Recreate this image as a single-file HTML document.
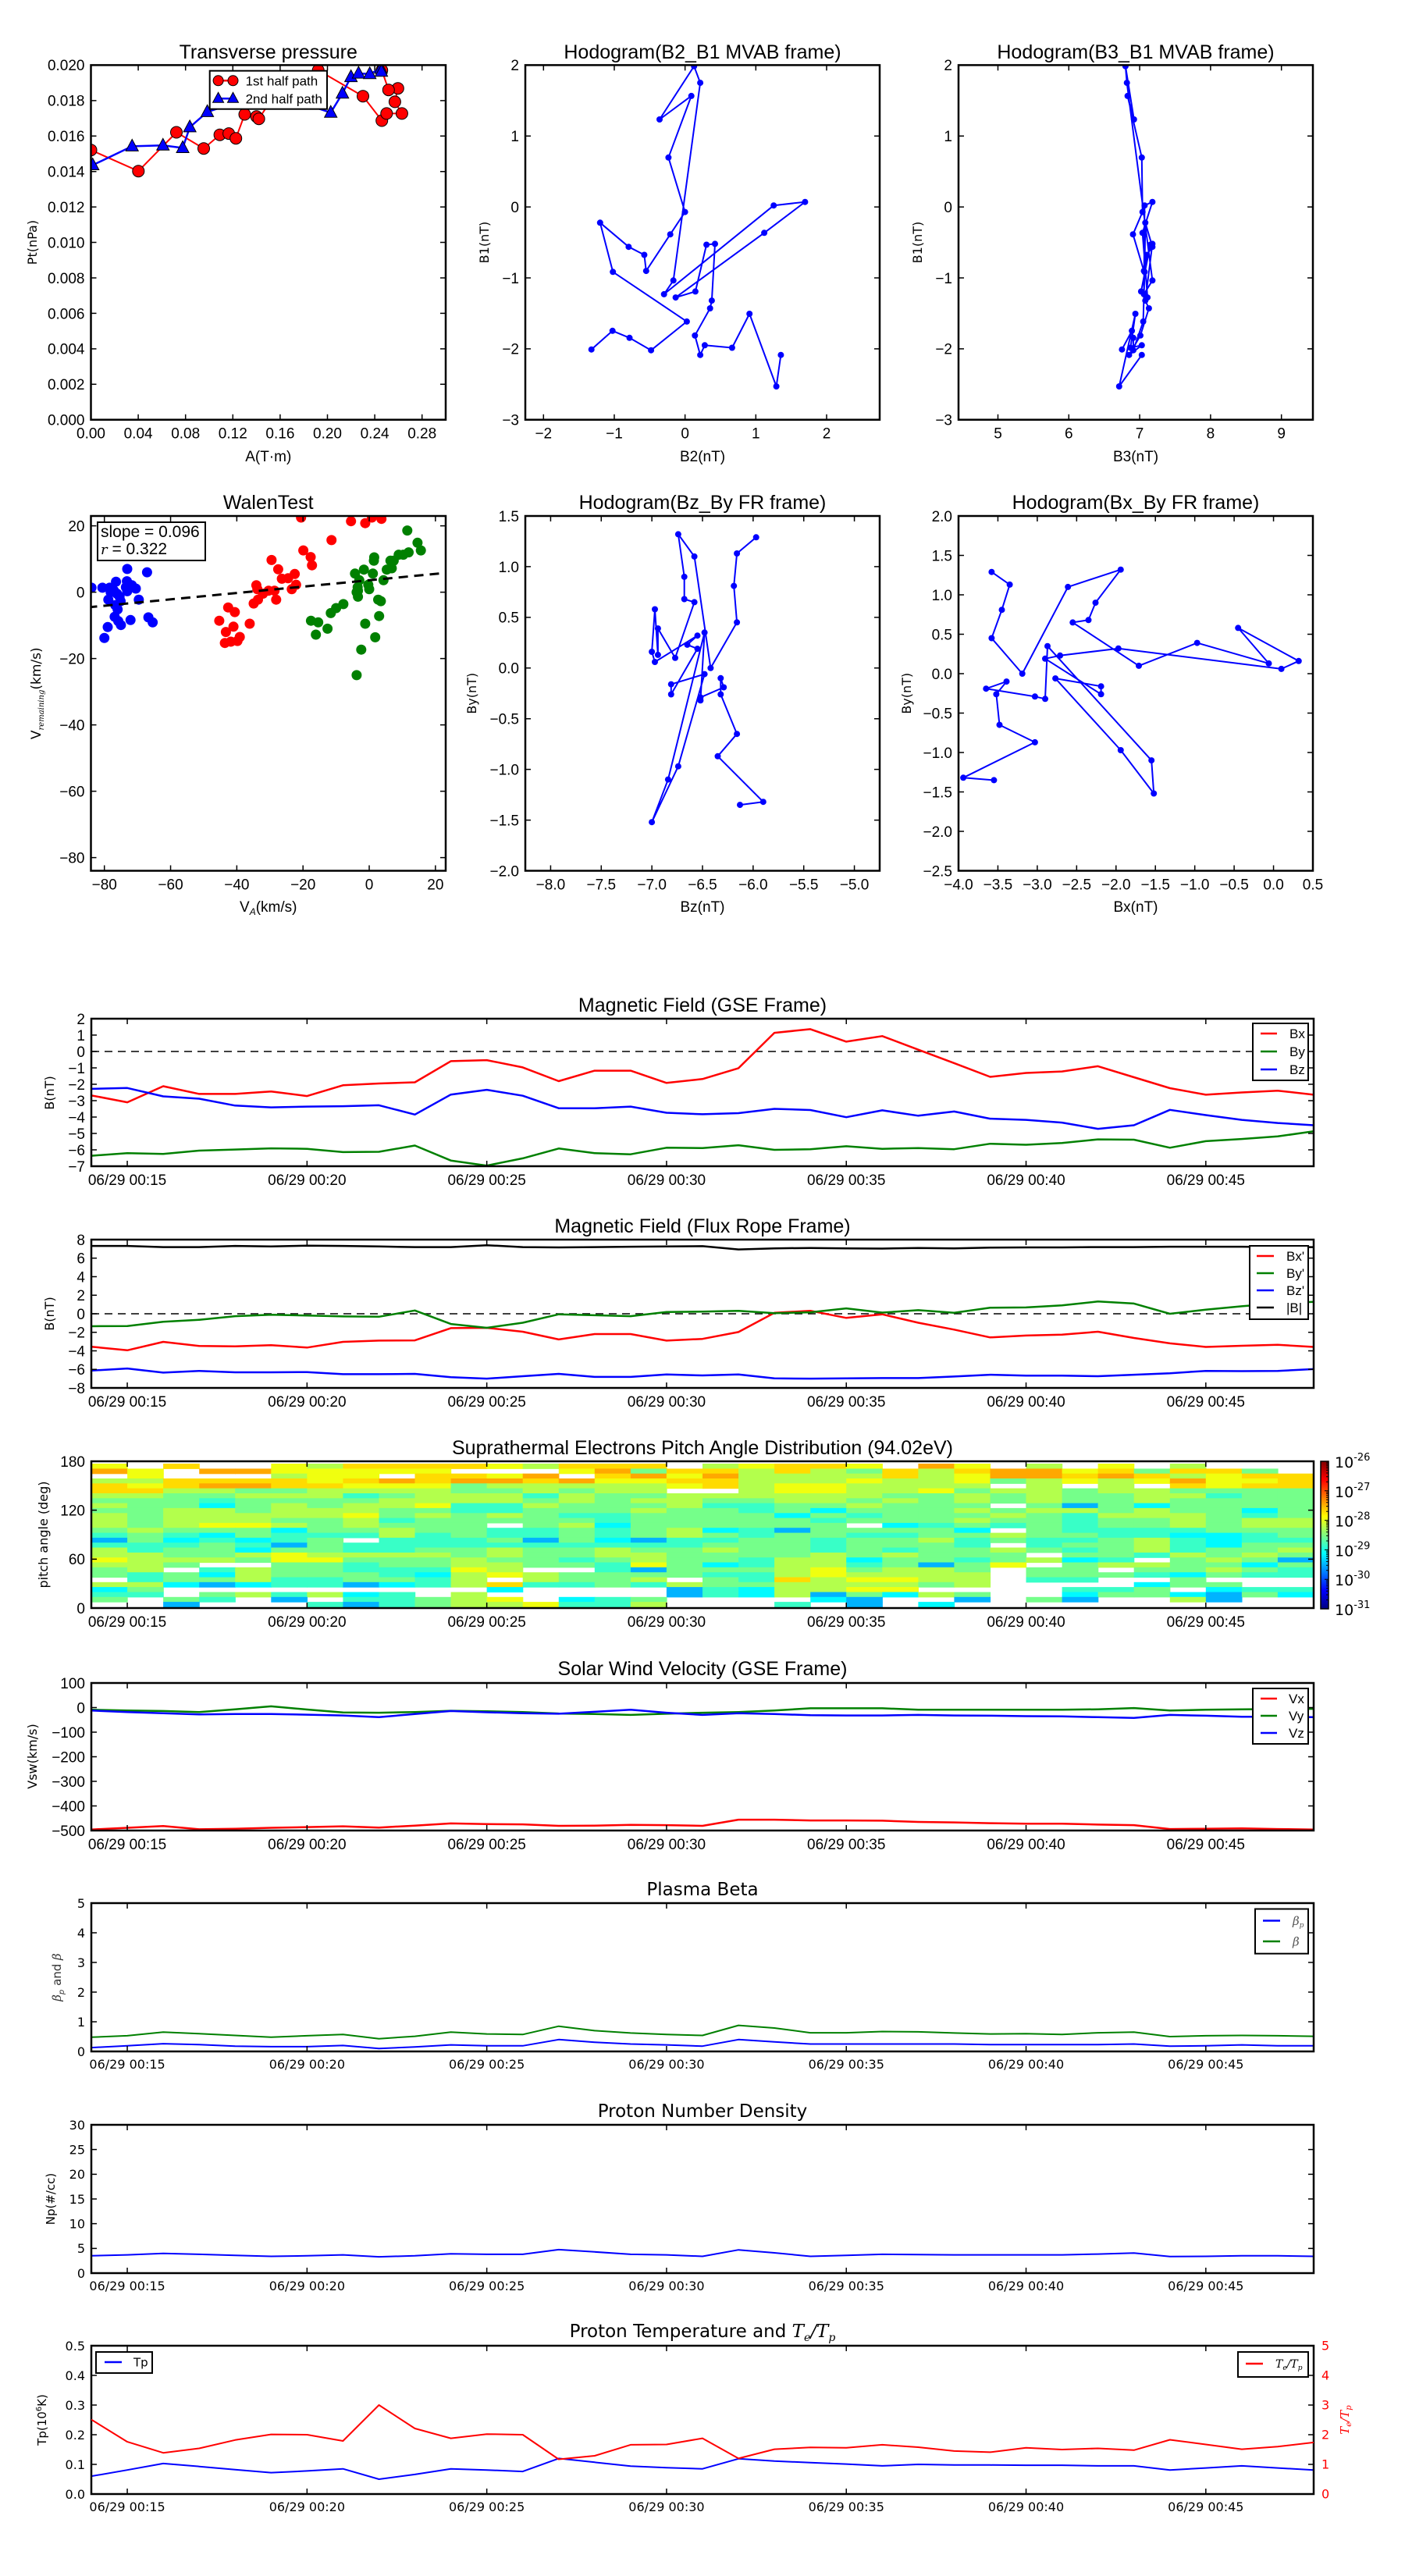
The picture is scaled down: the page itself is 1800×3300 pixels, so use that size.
<!DOCTYPE html>
<html><head><meta charset="utf-8"><title>Flux rope analysis</title>
<style>body{margin:0;background:#fff}svg{display:block}</style></head>
<body>
<svg id="fig" xmlns="http://www.w3.org/2000/svg" width="1800" height="3300" viewBox="0 0 1800 3300"><defs id="defs"></defs><rect x="0" y="0" width="1800" height="3300" fill="#fff"/></svg>
<script>
// ---------- DATA ----------
const minutes=[14,15,16,17,18,19,20,21,22,23,24,25,26,27,28,29,30,31,32,33,34,35,36,37,38,39,40,41,42,43,44,45,46,47,48];
const timeTicks=[15,20,25,30,35,40,45];
const timeTickLabels=['06/29 00:15','06/29 00:20','06/29 00:25','06/29 00:30','06/29 00:35','06/29 00:40','06/29 00:45'];

const gseBx=[-2.68,-3.10,-2.12,-2.59,-2.59,-2.44,-2.72,-2.06,-1.95,-1.88,-0.59,-0.53,-0.97,-1.81,-1.17,-1.17,-1.92,-1.68,-1.02,1.14,1.36,0.60,0.94,0.11,-0.71,-1.55,-1.31,-1.22,-0.90,-1.57,-2.24,-2.64,-2.50,-2.39,-2.64];
const gseBy=[-6.36,-6.20,-6.25,-6.05,-5.98,-5.91,-5.94,-6.14,-6.12,-5.74,-6.65,-6.96,-6.52,-5.92,-6.20,-6.27,-5.87,-5.89,-5.72,-6.00,-5.96,-5.78,-5.94,-5.89,-5.96,-5.63,-5.69,-5.58,-5.36,-5.38,-5.87,-5.47,-5.34,-5.18,-4.87];
const gseBz=[-2.28,-2.23,-2.74,-2.88,-3.30,-3.41,-3.36,-3.34,-3.28,-3.85,-2.63,-2.34,-2.70,-3.46,-3.46,-3.36,-3.74,-3.83,-3.76,-3.50,-3.57,-4.01,-3.59,-3.92,-3.66,-4.10,-4.17,-4.34,-4.72,-4.50,-3.56,-3.88,-4.17,-4.36,-4.50];

const frBx=[-3.55,-3.94,-3.03,-3.48,-3.52,-3.39,-3.65,-3.03,-2.90,-2.87,-1.55,-1.52,-1.94,-2.77,-2.19,-2.19,-2.90,-2.71,-1.97,0.10,0.32,-0.45,-0.06,-0.97,-1.71,-2.55,-2.35,-2.26,-1.94,-2.61,-3.19,-3.58,-3.45,-3.35,-3.58];
const frBy=[-1.35,-1.32,-0.87,-0.65,-0.26,-0.10,-0.19,-0.29,-0.32,0.35,-1.10,-1.52,-0.97,-0.06,-0.16,-0.26,0.19,0.23,0.32,0.06,0.16,0.58,0.13,0.39,0.10,0.65,0.68,0.90,1.32,1.10,0.00,0.45,0.81,1.13,1.29];
const frBz=[-6.13,-5.90,-6.35,-6.16,-6.32,-6.32,-6.29,-6.52,-6.52,-6.48,-6.84,-7.00,-6.74,-6.48,-6.81,-6.81,-6.55,-6.65,-6.55,-6.97,-7.00,-6.97,-6.94,-6.94,-6.77,-6.58,-6.68,-6.68,-6.74,-6.58,-6.42,-6.16,-6.19,-6.16,-5.97];
const frBt=[7.32,7.32,7.19,7.19,7.32,7.26,7.35,7.32,7.26,7.19,7.19,7.39,7.19,7.16,7.19,7.23,7.26,7.29,6.94,7.06,7.10,7.06,7.03,7.10,7.06,7.13,7.16,7.16,7.19,7.19,7.23,7.23,7.23,7.19,7.19];

const vx=[-496,-489,-482,-495,-493,-489,-486,-483,-488,-480,-471,-474,-475,-481,-480,-477,-478,-481,-456,-456,-459,-459,-460,-465,-467,-470,-472,-472,-476,-478,-494,-493,-491,-494,-496];
const vy=[-9,-12,-14,-18,-7,5,-8,-20,-21,-18,-13,-15,-18,-24,-26,-30,-25,-21,-18,-12,-3,-3,-3,-9,-9,-9,-9,-9,-7,-2,-12,-9,-7,-6,-5];
const vz=[-12,-18,-23,-28,-26,-26,-29,-32,-39,-26,-14,-19,-23,-25,-17,-9,-21,-30,-23,-26,-31,-32,-32,-30,-32,-33,-35,-36,-39,-42,-30,-33,-37,-37,-39];

const betaP=[0.13,0.19,0.26,0.23,0.18,0.16,0.16,0.20,0.10,0.15,0.22,0.19,0.19,0.40,0.31,0.25,0.22,0.18,0.40,0.32,0.25,0.25,0.25,0.25,0.25,0.23,0.23,0.23,0.23,0.25,0.18,0.19,0.22,0.19,0.19];
const betaAll=[0.48,0.53,0.65,0.60,0.54,0.48,0.53,0.57,0.43,0.51,0.65,0.59,0.57,0.85,0.70,0.62,0.57,0.54,0.88,0.79,0.63,0.63,0.67,0.66,0.62,0.59,0.60,0.57,0.63,0.65,0.50,0.53,0.54,0.53,0.51];
const np=[3.5,3.7,4.0,3.8,3.6,3.4,3.5,3.7,3.3,3.5,3.9,3.8,3.8,4.75,4.3,3.8,3.7,3.4,4.7,4.1,3.4,3.6,3.8,3.75,3.7,3.7,3.7,3.7,3.85,4.05,3.35,3.4,3.5,3.5,3.4];
const tp=[0.060,0.081,0.103,0.093,0.082,0.072,0.078,0.085,0.050,0.066,0.085,0.081,0.076,0.120,0.107,0.094,0.089,0.085,0.119,0.111,0.106,0.101,0.095,0.100,0.098,0.098,0.097,0.097,0.095,0.095,0.081,0.088,0.095,0.088,0.081];
const teTp=[2.51,1.76,1.39,1.54,1.82,2.01,2.00,1.79,3.00,2.21,1.88,2.02,2.00,1.17,1.29,1.66,1.67,1.88,1.20,1.51,1.57,1.56,1.66,1.58,1.45,1.41,1.56,1.50,1.54,1.48,1.83,1.67,1.51,1.60,1.74];

// pitch-angle rows (top = highest pitch angle); codes map to log10 PSD, '.' = no data
const pitchRows=[
"y.o..ylooooylooo.lyooy.ry.l.y.l...",
"ry.rryyyyy...yrgoololgolorryogoog.",
".y...lyy.ooyr.oryrllllolyrrorolyoo",
"llooooyororroryyoolllyllyglylyryyo",
"oyorrooyyyglllllyolyyllll.l.l.oyoo",
"oollggllllgglgll..lyyllygllgllgggg",
"llggllldgllldlggllllllgglglgglldggl",
"gggdggggllllglgllggllglglglgglgggg",
"lggcglgllyddlggglddgglggg.gbgcgggg",
"ggllglllggddggglggdgcggglgllglggcg",
"lglllllyglglgddggggcgdggglgdlllgdg",
"lglllggldgggggdgggggdggglggdgglgll",
"lglyylglggg.glcgggggg.cdgdgdgglgll",
"glgggcgglggddgdglcdbggggc.gddddggg",
"dgdcgdddldgddgdglgdggddgglggddccdg",
"bgcdcdg.dddgbgcbddggdggldgddgldcdd",
"dddgdbgddddddddddgggdgggd.dggldcgg",
"ldggcggddgglgglgglggdgdgglgdgldggl",
"llgglyllllglggllgggglglggg.ggdlglgg",
"ylllgyyggglggdglggdllcggdglcd.glgb",
"llg..ggdggllggdygcdlldgbgy.gllggcg",
"gl.dlggdddyl..dbggglygllg.gg.gglgd",
"gdgclgggdclylggggddlyllll.gggdcgdd",
".dgglddggdl.lggl.gdolyyll.dd..g...",
"llcbcddbcdloddgdlggllllgl....cgg.",
"cg.........c....bdcllyy....ddg.cdd",
"dd.gldlcd.l.....bdclbgclg..cggcbgc",
"g.gd.b.ddgly.cdg....cb..b.gb..lb..",
"..b...dbdgllyddl...d.b.c.........."
];
const pitchCodes=['b','c','d','g','l','y','o','r'];
const pitchLogValues=[-29.5,-29.15,-28.85,-28.55,-28.25,-27.95,-27.7,-27.45];
const pitchBinTop=177.1, pitchBinWidth=6.055;
const cbarMin=-31, cbarMax=-26;
const cbarTickLabels=['-31','-30','-29','-28','-27','-26'];

// Transverse pressure
const ptRedA=[0,0.0401,0.0723,0.0954,0.109,0.1166,0.1226,0.130,0.140,0.142,0.160,0.1922,0.230,0.246,0.250,0.263,0.257,0.2596,0.2517,0.246];
const ptRedP=[0.01521,0.01402,0.01621,0.0153,0.01607,0.01614,0.01587,0.01722,0.0171,0.01697,0.0188,0.01971,0.01825,0.01687,0.01727,0.01727,0.01793,0.01869,0.0186,0.01971];
const ptBlueA=[0.0015,0.0348,0.0609,0.0776,0.0836,0.0984,0.150,0.2028,0.2127,0.2199,0.2263,0.2358,0.2452,0.2456];
const ptBlueP=[0.01436,0.01542,0.01547,0.01533,0.0165,0.01736,0.0185,0.01732,0.0184,0.01933,0.01953,0.0195,0.0198,0.01963];

// MVAB hodograms
const mvaB1=[-2.01,-1.746,-1.846,-2.02,-1.615,-0.915,-0.222,-0.562,-0.676,-0.902,-0.386,-0.071,0.697,1.565,1.234,1.985,1.75,-1.036,-1.23,0.021,0.071,-0.365,-1.276,-1.192,-0.533,-0.52,-1.32,-1.43,-1.813,-2.086,-1.95,-1.985,-1.506,-2.53,-2.086];
const mvaB2=[-1.323,-1.025,-0.785,-0.48,0.025,-1.02,-1.2,-0.797,-0.576,-0.55,-0.209,0,-0.234,0.089,-0.36,0.127,0.215,-0.165,-0.297,1.252,1.696,1.119,-0.133,0.146,0.303,0.423,0.378,0.354,0.139,0.215,0.278,0.664,0.91,1.29,1.354];
const mvaB3=[6.75,6.89,6.91,6.91,7.05,7.07,7.08,7.18,7.10,7.06,6.905,7.04,7.03,6.83,6.92,6.80,6.82,7.18,7.06,7.07,7.18,7.04,7.11,7.02,7.15,7.18,7.08,7.13,7.01,6.85,7.03,6.87,6.94,6.71,7.03];

// Walen test
const wBlueX=[-83.9,-80.6,-78.4,-78.8,-76.5,-73.1,-73.2,-71.7,-70.5,-73.1,-76.2,-75.1,-76.7,-76.0,-76.9,-75.8,-75.0,-79.0,-80.0,-72.1,-69.6,-67.1,-66.7,-65.4,-77.1,-78.1,-73.5,-75.4];
const wBlueY=[1.35,1.35,1.35,-2.25,3.15,7.0,3.3,2.1,1.1,0.3,-0.45,-2.7,-3.9,-5.2,-7.4,-8.7,-9.9,-10.5,-13.8,-8.4,-2.25,6.0,-7.6,-9.1,0.45,0,1.5,-1.35];
const wRedX=[-45.3,-43.3,-43.6,-41.8,-39.8,-39.1,-41.0,-40.6,-42.6,-36.1,-34.9,-34.1,-33.6,-32.1,-28.6,-28.1,-29.5,-27.5,-26.4,-24.5,-23.4,-22.5,-22.1,-19.9,-17.7,-17.3,-11.4,-20.6,-5.5,-1.2,0.8,3.7,-33.8,-30.4];
const wRedY=[-8.6,-12.0,-15.3,-14.9,-14.7,-13.5,-10.4,-6.0,-4.6,-9.5,-3.4,2.1,-2.25,-0.45,0.45,-2.25,9.7,6.9,4.05,4.2,0.9,5.5,2.25,12.6,10.6,8.1,15.7,22.5,21.4,20.8,22.5,22.1,0.9,0.45];
const wGreenX=[-17.6,-15.4,-16.1,-12.6,-11.6,-10.0,-7.8,-4.3,-3.8,-3.5,-3.0,-1.6,-0.3,0,1.1,1.4,1.5,2.7,3.5,3.0,1.8,-1.2,-2.4,-3.8,4.3,5.3,6.4,6.8,7.4,8.9,10.3,11.9,11.5,14.6,15.6,-3.4,-3.4];
const wGreenY=[-8.6,-9.1,-12.8,-11.0,-6.3,-4.8,-3.6,5.6,0,1.5,3.6,6.8,2.25,0.9,5.6,9.5,10.5,-2.25,-2.7,-7.2,-13.6,-9.5,-17.3,-25.0,3.6,6.8,9.5,7.2,9.5,11.3,11.3,12.0,18.6,14.9,12.6,-1.35,0.45];
const walenSlope=0.096, walenIntercept=3.6, walenR=0.322;

// ---------- HELPERS ----------
const NS='http://www.w3.org/2000/svg';
const svg=document.getElementById('fig');
const defs=document.getElementById('defs');
const LIB='"Liberation Sans", sans-serif';
const DJV='"DejaVu Sans", "Liberation Sans", sans-serif';
const SERIF='"DejaVu Serif", "Liberation Serif", serif';
let clipN=0;
function E(tag,attrs,parent){const el=document.createElementNS(NS,tag);for(const k in attrs)el.setAttribute(k,attrs[k]);(parent||svg).appendChild(el);return el;}
function fmt(v,d){const s=Math.abs(v).toFixed(d);return (v<-1e-9?'\u2212':'')+s;}
function T(parent,s,x,y,fs,font,anchor,fill){const t=E('text',{x:x,y:y,'font-size':fs,'font-family':font,'text-anchor':anchor||'middle',fill:fill||'#000'},parent);t.textContent=s;return t;}
function makeAxis(name,x0,y0,x1,y1,xmin,xmax,ymin,ymax){
  const g=E('g',{},svg);
  
  
  const id='clip'+(clipN++);
  const cp=E('clipPath',{id:id},defs);
  E('rect',{x:x0,y:y0,width:x1-x0,height:y1-y0},cp);
  const data=E('g',{'clip-path':'url(#'+id+')'},g);
  
  
  return {name,g,data,x0,y0,x1,y1,sx:v=>x0+(v-xmin)/(xmax-xmin)*(x1-x0),sy:v=>y1-(v-ymin)/(ymax-ymin)*(y1-y0)};
}
function finishAxis(ax,xt,xl,yt,yl,o){
  let d='';const L=o.tl||7;
  xt.forEach(v=>{const x=ax.sx(v);d+=`M${x},${ax.y1}v${-L}M${x},${ax.y0}v${L}`;});
  yt.forEach(v=>{const y=ax.sy(v);d+=`M${ax.x0},${y}h${L}`;if(!o.noRight)d+=`M${ax.x1},${y}h${-L}`;});
  const tk=E('path',{d:d,stroke:'#000','stroke-width':1.5,fill:'none'},ax.g);
  
  
  xt.forEach((v,i)=>{const t=T(ax.g,xl[i],ax.sx(v),ax.y1+o.xlb,o.fs,o.font);
    
    });
  yt.forEach((v,i)=>{const t=T(ax.g,yl[i],ax.x0-8,ax.sy(v)+o.fs*0.36,o.fs,o.font,'end');
    
    });
  const fr=E('rect',{x:ax.x0,y:ax.y0,width:ax.x1-ax.x0,height:ax.y1-ax.y0,fill:'none',stroke:'#000','stroke-width':2.5},ax.g);
  
  
}
function range(a,b,s){const r=[];for(let v=a;v<=b+s*1e-6;v+=s)r.push(+v.toFixed(6));return r;}
function line(ax,xs,ys,color,w,name){
  const p=E('polyline',{points:xs.map((x,i)=>ax.sx(x).toFixed(1)+','+ax.sy(ys[i]).toFixed(1)).join(' '),fill:'none',stroke:color,'stroke-width':w||2,'stroke-linejoin':'round'},ax.data);
  
  
  return p;
}
function dots(ax,xs,ys,color,r,name,stroke){
  const g=E('g',{},ax.data);
  
  
  xs.forEach((x,i)=>{const c=E('circle',{cx:ax.sx(x).toFixed(1),cy:ax.sy(ys[i]).toFixed(1),r:r,fill:color,stroke:stroke||'none','stroke-width':1},g);
    
    });
}
function title(s,x,y,fs,font,name){const t=T(svg,s,x,y,fs,font);return t;}
function ylabel(s,x,yc,fs,font,name,fill){const t=E('text',{transform:`translate(${x},${yc}) rotate(-90)`,'font-size':fs,'font-family':font,'text-anchor':'middle',fill:fill||'#000'},svg);t.textContent=s;return t;}
function legend(name,x0,y0,x1,y1,items,lx0,lx1,tx,fs,font){
  const g=E('g',{},svg);
  
  
  const r=E('rect',{x:x0,y:y0,width:x1-x0,height:y1-y0,fill:'#fff',stroke:'#000','stroke-width':2},g);
  
  
  items.forEach(it=>{
    const l=E('line',{x1:lx0,x2:lx1,y1:it.y,y2:it.y,stroke:it.c,'stroke-width':2.5},g);
    
    
    const t=T(g,'',tx,it.y+fs*0.36,fs,font,'start');
    if(it.html){t.innerHTML=it.html;}else t.textContent=it.t;
    
    
  });
  return g;
}
function jet(t){t=Math.max(0,Math.min(1,t));const c=v=>Math.round(255*Math.max(0,Math.min(1,v)));
  return `rgb(${c(1.5-Math.abs(4*t-3))},${c(1.5-Math.abs(4*t-2))},${c(1.5-Math.abs(4*t-1))})`;}

// ---------- ROW 1 ----------
const C1=[116.5,571],C2=[673,1127],C3=[1228,1682];
const R1=[83.4,537.7],R2=[661,1115.5];
const up={font:LIB,fs:19,xlb:24};

{
  const ax=makeAxis('transverse-pressure-chart',C1[0],R1[0],C1[1],R1[1],0,0.30,0,0.020);
  line(ax,ptRedA,ptRedP,'#f00',2,'first-half-path-line');
  dots(ax,ptRedA,ptRedP,'#f00',7.5,'first-half-path-markers','#000');
  line(ax,ptBlueA,ptBlueP,'#00f',2.5,'second-half-path-line');
  const tg=E('g',{},ax.data);
  
  
  ptBlueA.forEach((a,i)=>{const x=ax.sx(a),y=ax.sy(ptBlueP[i]);
    const p=E('polygon',{points:`${x},${y-9} ${x-8},${y+6} ${x+8},${y+6}`,fill:'#00f',stroke:'#000','stroke-width':1},tg);
    
    });
  finishAxis(ax,range(0,0.28,0.04),range(0,0.28,0.04).map(v=>v.toFixed(2)),range(0,0.02,0.002),range(0,0.02,0.002).map(v=>v.toFixed(3)),up);
  const lg=legend('pressure-legend',268.7,90.7,419,139.7,[],0,0,0,17,LIB);
  [[103.3,'#f00','1st half path','c'],[126.3,'#00f','2nd half path','t']].forEach(it=>{
    const l=E('line',{x1:279.6,x2:298.5,y1:it[0],y2:it[0],stroke:it[1],'stroke-width':2.5},lg);
    
    
    [279.6,298.5].forEach(x=>{let m;
      if(it[3]==='c')m=E('circle',{cx:x,cy:it[0],r:6.5,fill:it[1],stroke:'#000','stroke-width':1},lg);
      else m=E('polygon',{points:`${x},${it[0]-8} ${x-7},${it[0]+5} ${x+7},${it[0]+5}`,fill:it[1],stroke:'#000','stroke-width':1},lg);
      
      });
    const t=T(lg,it[2],314.6,it[0]+6,17,LIB,'start');
    
    
  });
  title('Transverse pressure',(C1[0]+C1[1])/2,75,25,LIB,'transverse-pressure-title');
  ylabel('Pt(nPa)',47,(R1[0]+R1[1])/2,16,DJV,'pt-y-axis-title');
  title('A(T\u00b7m)',(C1[0]+C1[1])/2,591,19,LIB,'a-x-axis-title');
}
{
  const ax=makeAxis('hodogram-b2-b1-chart',C2[0],R1[0],C2[1],R1[1],-2.257,2.75,-3,2);
  line(ax,mvaB2,mvaB1,'#00f',2,'b2-b1-path');
  dots(ax,mvaB2,mvaB1,'#00f',4,'b2-b1-points');
  finishAxis(ax,range(-2,2,1),range(-2,2,1).map(v=>fmt(v,0)),range(-3,2,1),range(-3,2,1).map(v=>fmt(v,0)),up);
  title('Hodogram(B2_B1 MVAB frame)',(C2[0]+C2[1])/2,75,25,LIB,'hodogram-b2-b1-title');
  ylabel('B1(nT)',626,(R1[0]+R1[1])/2,16,DJV,'b1-y-axis-title');
  title('B2(nT)',(C2[0]+C2[1])/2,591,19,LIB,'b2-x-axis-title');
}
{
  const ax=makeAxis('hodogram-b3-b1-chart',C3[0],R1[0],C3[1],R1[1],4.444,9.444,-3,2);
  line(ax,mvaB3,mvaB1,'#00f',2,'b3-b1-path');
  dots(ax,mvaB3,mvaB1,'#00f',4,'b3-b1-points');
  finishAxis(ax,range(5,9,1),range(5,9,1).map(v=>fmt(v,0)),range(-3,2,1),range(-3,2,1).map(v=>fmt(v,0)),up);
  title('Hodogram(B3_B1 MVAB frame)',(C3[0]+C3[1])/2,75,25,LIB,'hodogram-b3-b1-title');
  ylabel('B1(nT)',1181,(R1[0]+R1[1])/2,16,DJV,'b1-y-axis-title-2');
  title('B3(nT)',(C3[0]+C3[1])/2,591,19,LIB,'b3-x-axis-title');
}
// ---------- ROW 2 ----------
{
  const ax=makeAxis('walen-test-chart',C1[0],R2[0],C1[1],R2[1],-84.06,23.1,-83.96,22.97);
  dots(ax,wBlueX,wBlueY,'#00f',6.5,'walen-blue-points');
  dots(ax,wRedX,wRedY,'#f00',6.5,'walen-red-points');
  dots(ax,wGreenX,wGreenY,'#008000',6.5,'walen-green-points');
  const fx=[-85,25];
  const fl=E('line',{x1:ax.sx(fx[0]),y1:ax.sy(walenIntercept+walenSlope*fx[0]),x2:ax.sx(fx[1]),y2:ax.sy(walenIntercept+walenSlope*fx[1]),stroke:'#000','stroke-width':3,'stroke-dasharray':'12,8'},ax.data);
  
  
  finishAxis(ax,range(-80,20,20),range(-80,20,20).map(v=>fmt(v,0)),range(-80,20,20),range(-80,20,20).map(v=>fmt(v,0)),up);
  const bx=E('rect',{x:125,y:669,width:138,height:49,fill:'#fff',stroke:'#000','stroke-width':2},svg);
  
  
  const s1=T(svg,'slope = '+walenSlope.toFixed(3),129,688,21,LIB,'start');
  
  
  const s2=T(svg,'',129,710,21,LIB,'start');
  s2.innerHTML='<tspan font-family=\'"DejaVu Serif", serif\' font-style="italic" font-size="18">r</tspan> = '+walenR.toFixed(3);
  
  
  title('WalenTest',(C1[0]+C1[1])/2,652,25,LIB,'walen-test-title');
  const yl=ylabel('',52,(R2[0]+R2[1])/2,17,DJV,'v-remaining-y-axis-title');
  yl.innerHTML='V<tspan font-size="10" font-style="italic" font-family=\'"DejaVu Serif", serif\' dy="4">remaining</tspan><tspan dy="-4">(km/s)</tspan>';
  const xl=title('',(C1[0]+C1[1])/2,1168,19,LIB,'va-x-axis-title');
  xl.innerHTML='V<tspan font-size="12" font-style="italic" dy="4">A</tspan><tspan dy="-4">(km/s)</tspan>';
}
{
  const ax=makeAxis('hodogram-bz-by-chart',C2[0],R2[0],C2[1],R2[1],-8.25,-4.75,-2,1.5);
  line(ax,frBz,frBy,'#00f',2,'bz-by-path');
  dots(ax,frBz,frBy,'#00f',4,'bz-by-points');
  finishAxis(ax,range(-8,-5,0.5),range(-8,-5,0.5).map(v=>fmt(v,1)),range(-2,1.5,0.5),range(-2,1.5,0.5).map(v=>fmt(v,1)),up);
  title('Hodogram(Bz_By FR frame)',(C2[0]+C2[1])/2,652,25,LIB,'hodogram-bz-by-title');
  ylabel('By(nT)',610,(R2[0]+R2[1])/2,16,DJV,'by-y-axis-title');
  title('Bz(nT)',(C2[0]+C2[1])/2,1168,19,LIB,'bz-x-axis-title');
}
{
  const ax=makeAxis('hodogram-bx-by-chart',C3[0],R2[0],C3[1],R2[1],-4,0.5,-2.5,2.0);
  line(ax,frBx,frBy,'#00f',2,'bx-by-path');
  dots(ax,frBx,frBy,'#00f',4,'bx-by-points');
  finishAxis(ax,range(-4,0.5,0.5),range(-4,0.5,0.5).map(v=>fmt(v,1)),range(-2.5,2,0.5),range(-2.5,2,0.5).map(v=>fmt(v,1)),up);
  title('Hodogram(Bx_By FR frame)',(C3[0]+C3[1])/2,652,25,LIB,'hodogram-bx-by-title');
  ylabel('By(nT)',1167,(R2[0]+R2[1])/2,16,DJV,'by-y-axis-title-2');
  title('Bx(nT)',(C3[0]+C3[1])/2,1168,19,LIB,'bx-x-axis-title');
}
// ---------- TIME SERIES ----------
const TX0=117,TX1=1683;
function tPanel(name,y0,y1,ymin,ymax){return makeAxis(name,TX0,y0,TX1,y1,14,48,ymin,ymax);}
function zeroLine(ax){const z=E('line',{x1:TX0,x2:TX1,y1:ax.sy(0),y2:ax.sy(0),stroke:'#000','stroke-width':1.5,'stroke-dasharray':'10,7'},ax.data);
  
  }
const upT={font:LIB,fs:19,xlb:24};
const loT={font:DJV,fs:16,xlb:22};

{
  const ax=tPanel('magnetic-field-gse-chart',1305,1494,-7,2);
  zeroLine(ax);
  line(ax,minutes,gseBx,'#f00',2.5,'bx-line');
  line(ax,minutes,gseBy,'#008000',2.5,'by-line');
  line(ax,minutes,gseBz,'#00f',2.5,'bz-line');
  finishAxis(ax,timeTicks,timeTickLabels,range(-7,2,1),range(-7,2,1).map(v=>fmt(v,0)),upT);
  title('Magnetic Field (GSE Frame)',900,1296,25,LIB,'magnetic-field-gse-title');
  ylabel('B(nT)',69,1400,16,DJV,'b-gse-y-axis-title');
  legend('gse-legend',1605,1311,1676,1384,[{y:1324,c:'#f00',t:'Bx'},{y:1347,c:'#008000',t:'By'},{y:1370,c:'#00f',t:'Bz'}],1615,1636,1652,17,LIB);
}
{
  const ax=tPanel('magnetic-field-fr-chart',1588,1778,-8,8);
  zeroLine(ax);
  line(ax,minutes,frBx,'#f00',2.5,'bx-prime-line');
  line(ax,minutes,frBy,'#008000',2.5,'by-prime-line');
  line(ax,minutes,frBz,'#00f',2.5,'bz-prime-line');
  line(ax,minutes,frBt,'#000',2.5,'b-magnitude-line');
  finishAxis(ax,timeTicks,timeTickLabels,range(-8,8,2),range(-8,8,2).map(v=>fmt(v,0)),upT);
  title('Magnetic Field (Flux Rope Frame)',900,1579,25,LIB,'magnetic-field-fr-title');
  ylabel('B(nT)',69,1683,16,DJV,'b-fr-y-axis-title');
  legend('fr-legend',1601,1596,1676,1690,[{y:1609,c:'#f00',t:"Bx'"},{y:1631,c:'#008000',t:"By'"},{y:1653,c:'#00f',t:"Bz'"},{y:1675,c:'#000',t:'|B|'}],1610,1632,1648,17,LIB);
}
{
  const ax=tPanel('pitch-angle-chart',1872,2060,0,180);
  pitchRows.forEach((row,i)=>{
    const top=pitchBinTop-i*pitchBinWidth, bot=top-pitchBinWidth;
    for(let j=0;j<minutes.length-1;j++){
      const ch=row[j]||'.';const k=pitchCodes.indexOf(ch);if(k<0)continue;
      const val=pitchLogValues[k];
      const x=ax.sx(minutes[j]),w=ax.sx(minutes[j+1])-x;
      const yT=ax.sy(top),yB=ax.sy(Math.max(0,bot));
      const c=E('rect',{x:x.toFixed(1),y:yT.toFixed(1),width:(w+0.6).toFixed(1),height:(yB-yT+0.6).toFixed(1),fill:jet((val-cbarMin)/(cbarMax-cbarMin))},ax.data);
      
      
    }
  });
  finishAxis(ax,timeTicks,timeTickLabels,[0,60,120,180],['0','60','120','180'],upT);
  title('Suprathermal Electrons Pitch Angle Distribution (94.02eV)',900,1863,25,LIB,'pitch-angle-title');
  ylabel('pitch angle (deg)',61,1966,16,DJV,'pitch-angle-y-axis-title');
  const gr=E('linearGradient',{id:'jetgrad',x1:0,y1:1,x2:0,y2:0},defs);
  for(let s=0;s<=16;s++)E('stop',{offset:(s/16).toFixed(4),'stop-color':jet(s/16)},gr);
  const cb=E('rect',{x:1692,y:1872,width:10,height:189,fill:'url(#jetgrad)',stroke:'#000','stroke-width':1.5},svg);
  
  
  let cd='';
  for(let dec=0;dec<5;dec++)for(let m=2;m<=9;m++){const y=2061-(dec+Math.log10(m))/5*189;cd+=`M1702,${y.toFixed(1)}h-3`;}
  cbarTickLabels.forEach((l,i)=>{const y=2061-i/5*189;cd+=`M1702,${y.toFixed(1)}h-5`;});
  const ct=E('path',{d:cd,stroke:'#000','stroke-width':1},svg);
  
  
  cbarTickLabels.forEach((l,i)=>{const y=2061-i/5*189;
    const t=T(svg,'',1710,y+8,19,DJV,'start');
    t.innerHTML='10<tspan font-size="13" dy="-9">'+l+'</tspan>';
    
    });
}
{
  const ax=tPanel('solar-wind-velocity-chart',2156,2345,-500,100);
  line(ax,minutes,vx,'#f00',2.5,'vx-line');
  line(ax,minutes,vy,'#008000',2.5,'vy-line');
  line(ax,minutes,vz,'#00f',2.5,'vz-line');
  finishAxis(ax,timeTicks,timeTickLabels,range(-500,100,100),range(-500,100,100).map(v=>fmt(v,0)),upT);
  title('Solar Wind Velocity (GSE Frame)',900,2146,25,LIB,'solar-wind-velocity-title');
  ylabel('Vsw(km/s)',47,2250,16,DJV,'vsw-y-axis-title');
  legend('velocity-legend',1605,2163,1676,2234,[{y:2176,c:'#f00',t:'Vx'},{y:2198,c:'#008000',t:'Vy'},{y:2220,c:'#00f',t:'Vz'}],1615,1636,1651,17,LIB);
}
{
  const ax=tPanel('plasma-beta-chart',2438,2628,0,5);
  line(ax,minutes,betaP,'#00f',2,'beta-p-line');
  line(ax,minutes,betaAll,'#008000',2,'beta-line');
  finishAxis(ax,timeTicks,timeTickLabels,range(0,5,1),range(0,5,1).map(v=>fmt(v,0)),loT);
  title('Plasma Beta',900,2428,23,DJV,'plasma-beta-title');
  const yl=ylabel('',78,2533,15,DJV,'beta-y-axis-title','#333');
  yl.innerHTML='<tspan font-family=\'"DejaVu Serif", serif\' font-style="italic">\u03b2</tspan><tspan font-size="10" dy="4" font-style="italic">p</tspan><tspan dy="-4"> and </tspan><tspan font-family=\'"DejaVu Serif", serif\' font-style="italic">\u03b2</tspan>';
  const lg=legend('beta-legend',1608,2445.5,1676,2502.7,[{y:2460.5,c:'#00f',t:''},{y:2487,c:'#008000',t:''}],1618,1640,1656,15,SERIF);
  const e=lg.querySelectorAll('text');
  e[0].innerHTML='<tspan font-style="italic" fill="#555">\u03b2</tspan><tspan font-size="9" dy="3" font-style="italic" fill="#555">p</tspan>';
  e[1].innerHTML='<tspan font-style="italic" fill="#555">\u03b2</tspan>';
}
{
  const ax=tPanel('proton-density-chart',2722,2912,0,30);
  line(ax,minutes,np,'#00f',2,'np-line');
  finishAxis(ax,timeTicks,timeTickLabels,range(0,30,5),range(0,30,5).map(v=>fmt(v,0)),loT);
  title('Proton Number Density',900,2712,23,DJV,'proton-density-title');
  ylabel('Np(#/cc)',70,2817,15,DJV,'np-y-axis-title');
}
{
  const ax=tPanel('proton-temperature-chart',3005,3195,0,0.5);
  const ax2=makeAxis('te-tp-axis',TX0,3005,TX1,3195,14,48,0,5);
  line(ax,minutes,tp,'#00f',2,'tp-line');
  line(ax2,minutes,teTp,'#f00',2,'te-tp-line');
  finishAxis(ax,timeTicks,timeTickLabels,range(0,0.5,0.1),range(0,0.5,0.1).map(v=>v.toFixed(1)),Object.assign({noRight:true},loT));
  let d='';range(0,5,1).forEach(v=>{d+=`M${TX1},${ax2.sy(v)}h-7`;});
  const rt=E('path',{d:d,stroke:'#000','stroke-width':1.5},svg);
  
  
  range(0,5,1).forEach(v=>{const t=T(svg,String(v),TX1+10,ax2.sy(v)+5.6,16,DJV,'start','#f00');
    
    });
  const tt=title('',900,2994,23,DJV,'proton-temperature-title');
  tt.innerHTML='Proton Temperature and <tspan font-family=\'"DejaVu Serif", serif\' font-style="italic">T<tspan font-size="14" dy="5">e</tspan><tspan dy="-5">/T</tspan><tspan font-size="14" dy="5">p</tspan></tspan>';
  const yl=ylabel('',59,3100,15,DJV,'tp-y-axis-title');
  yl.innerHTML='Tp(10<tspan font-size="10" dy="-6">6</tspan><tspan dy="6">K)</tspan>';
  const yr=ylabel('',1728,3100,15,SERIF,'te-tp-y-axis-title','#f00');
  yr.innerHTML='<tspan font-style="italic">T<tspan font-size="10" dy="3">e</tspan><tspan dy="-3">/T</tspan><tspan font-size="10" dy="3">p</tspan></tspan>';
  legend('tp-legend',123,3013,195,3040,[{y:3026,c:'#00f',t:'Tp'}],134,156,171,15,DJV);
  const lg=legend('te-tp-legend',1586,3013,1676,3045,[{y:3028,c:'#f00',t:''}],1596,1618,1634,14,SERIF);
  lg.querySelector('text').innerHTML='<tspan font-style="italic">T<tspan font-size="9" dy="3">e</tspan><tspan dy="-3">/T</tspan><tspan font-size="9" dy="3">p</tspan></tspan>';
}
</script>
</body></html>
